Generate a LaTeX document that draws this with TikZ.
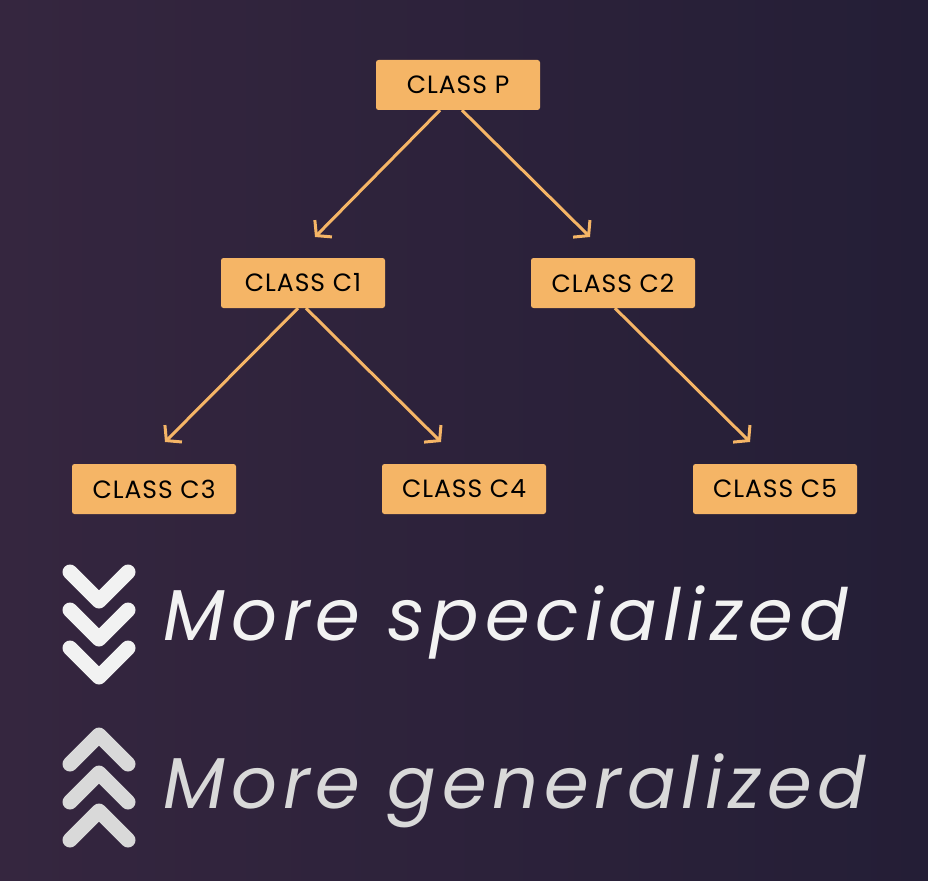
\documentclass[tikz,border=0pt]{standalone}
\usepackage{fontspec}
\setmainfont{Poppins}
\usetikzlibrary{arrows.meta}
\definecolor{boxc}{HTML}{F5B566}
\definecolor{bgl}{HTML}{35263F}
\definecolor{bgr}{HTML}{241E36}
\tikzset{x=1pt,y=-1pt,
 cls/.style={fill=boxc,rounded corners=2.5pt,minimum width=164pt,minimum height=50pt,inner sep=0pt,font=\fontsize{25}{25}\selectfont\addfontfeature{LetterSpace=4},text=black},
 conn/.style={draw=boxc,line width=3pt,-{Straight Barb[length=10pt,width=24pt,line width=3pt]}},
 chev/.style={draw=white!92!black,line width=15pt,line cap=round,line join=round},
 big/.style={font=\fontsize{72}{72}\selectfont\itshape,anchor=base west}}
\begin{document}
\begin{tikzpicture}
\shade[left color=bgl,right color=bgr] (0,0) rectangle (928,880);
\useasboundingbox (0,0) rectangle (928,880);
\node[cls] (p) at (458,85) {CLASS P};
\node[cls] (c1) at (303,283) {CLASS C1};
\node[cls] (c2) at (613,283) {CLASS C2};
\node[cls] (c3) at (154,489) {CLASS C3};
\node[cls] (c4) at (464,489) {CLASS C4};
\node[cls] (c5) at (775,489) {CLASS C5};
\coordinate (a1) at (315,237);
\coordinate (a2) at (590,237);
\coordinate (a3) at (165,442);
\coordinate (a4) at (441,442);
\coordinate (a5) at (750,442);
\draw[conn] (p.south -| 440,0) -- (a1);
\draw[conn] (p.south -| 462,0) -- (a2);
\draw[conn] (c1.south -| 298,0) -- (a3);
\draw[conn] (c1.south -| 306,0) -- (a4);
\draw[conn] (c2.south -| 615,0) -- (a5);
\foreach \y in {572,610,648}
  \draw[chev,draw=white!95!black] (70,\y) -- (99,\y+29) -- (128,\y);
\foreach \y in {735,773,811}
  \draw[chev,draw=white!85!black] (70,\y+29) -- (99,\y) -- (128,\y+29);
\node[big,text=white!95!black] (s) at (160,640) {\addfontfeature{LetterSpace=8}More specialized};
\node[big,text=white!85!black] (g) at (160,808) {\addfontfeature{LetterSpace=8}More generalized};
\end{tikzpicture}
\end{document}
